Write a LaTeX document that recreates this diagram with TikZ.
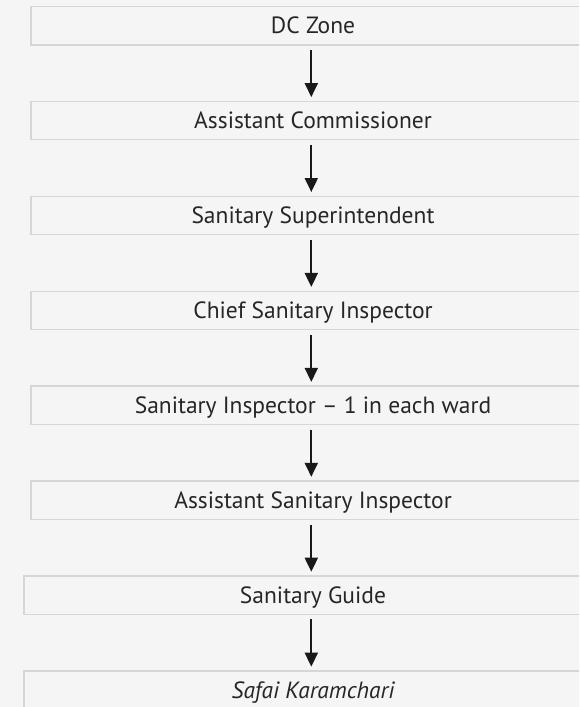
\documentclass[tikz,border=0pt]{standalone}
\usepackage{fontspec}
\setmainfont{PT Sans}
\usetikzlibrary{arrows.meta}
\definecolor{bg}{HTML}{F4F5F4}
\definecolor{boxline}{HTML}{D6D6D6}
\definecolor{ink}{HTML}{262626}
\begin{document}
\begin{tikzpicture}[x=1pt,y=1pt,
  level/.style={draw=boxline, line width=1.5pt, fill=bg, minimum height=38.3pt,
    text=ink, font=\fontsize{23.5}{27}\selectfont, inner sep=0pt,
    text height=16.5pt, text depth=0pt},
  wide/.style={level, minimum width=564pt},
  wider/.style={level, minimum width=578pt},
  down/.style={draw=black!90, line width=2pt,
    -{Triangle[width=13pt,length=14pt]}, shorten <=4.3pt, shorten >=3.6pt}]
\fill[bg] (0,0) rectangle (579,-707);
\useasboundingbox (0,0) rectangle (579,-707);
\clip (0,0) rectangle (579,-707);
% chain of posts, top to bottom
\node[wide]  (dc)  at (313,-25.65)  {DC Zone};
\node[wide]  (ac)  at (313,-120.58) {Assistant Commissioner};
\node[wide]  (ss)  at (313,-215.51) {Sanitary Superintendent};
\node[wide]  (csi) at (313,-310.44) {Chief Sanitary Inspector};
\node[wide]  (si)  at (313,-405.37) {Sanitary Inspector -- 1 in each ward};
\node[wide]  (asi) at (313,-500.30) {Assistant Sanitary Inspector};
\node[wider] (sg)  at (313,-595.23) {Sanitary Guide};
\node[wider] (sk)  at (313,-690.16) {\itshape Safai Karamchari};
% reporting arrows
\foreach \a/\b in {dc/ac, ac/ss, ss/csi, csi/si, si/asi, asi/sg, sg/sk}
  \draw[down] ([xshift=-1.7pt]\a.south) -- ([xshift=-1.7pt]\b.north);
\end{tikzpicture}
\end{document}
